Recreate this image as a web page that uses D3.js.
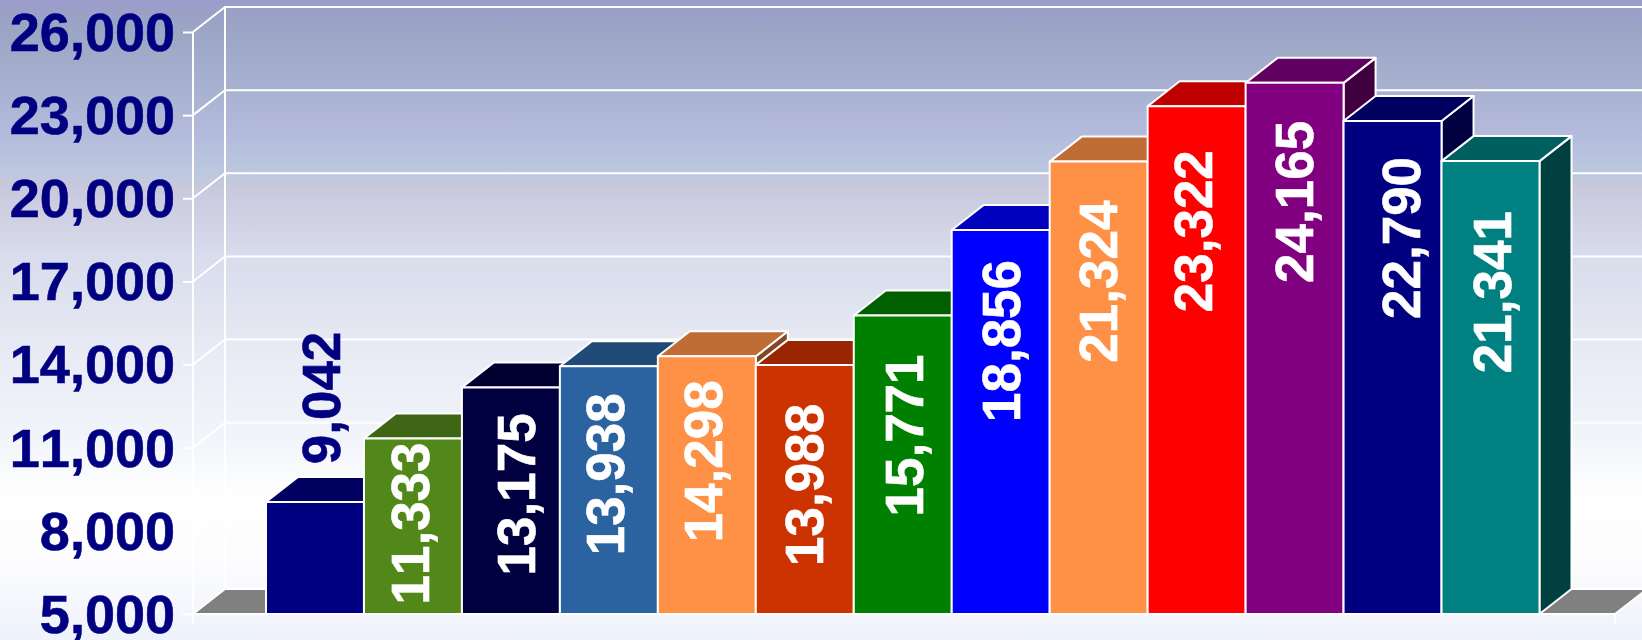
<!DOCTYPE html>
<html><head><meta charset="utf-8">
<script src="https://cdn.jsdelivr.net/npm/d3@7/dist/d3.min.js"></script>
<style>html,body{margin:0;padding:0;overflow:hidden;background:#fff}svg{display:block}text{font-family:"Liberation Sans",Arial,sans-serif;font-weight:bold;font-kerning:none}</style>
</head><body><svg id="c" width="1642" height="640"></svg>
<script>
const categories = ["A","B","C","D","E","F","G","H","I","J","K","L","M"];
const values = [9042,11333,13175,13938,14298,13988,15771,18856,21324,23322,24165,22790,21341];
const colors = ["#000080","#52881a","#000040","#2a639f","#ff9146","#cc3300","#008000","#0000ff","#ff9146","#ff0000","#800080","#000080","#008080"];
const tickValues = [5000,8000,11000,14000,17000,20000,23000,26000];
const labelDrop = [-104,85,107,108,105,120,120,111,120,125,119,117,131];
const labelNudge = [6,-3,6,-3,-3,0,2,1,0,-3,0,9,2];

const W=1642,H=640,x0=193,x1=1615,yBase=614,yTop=32,dx=32,dy=25;
const svg=d3.select("#c");
const defs=svg.append("defs");
const bg=defs.append("linearGradient").attr("id","bg").attr("x1",0).attr("y1",0).attr("x2",0).attr("y2",1);
[[0,"#9a9cca"],[.05,"#9ca6c4"],[.2,"#b2b9da"],[.27,"#bcc8e0"],[.29,"#c8c8dc"],[.4,"#d8dcec"],[.55,"#e8ebf4"],[.68,"#f1f4fa"],[.78,"#ffffff"],[.88,"#fcfcfe"],[1,"#eef2fa"]]
 .forEach(s=>bg.append("stop").attr("offset",s[0]).attr("stop-color",s[1]));
svg.append("rect").attr("width",W).attr("height",H).attr("fill","url(#bg)");

const y=d3.scaleLinear().domain([5000,26000]).range([yBase,yTop]);
const xb=d3.scaleBand().domain(categories).range([266,1539.5]).padding(0);
const line=d3.line();
const white=2;

// walls and gridlines
const grid=svg.append("g").attr("fill","none").attr("stroke","#fff").attr("stroke-width",white);
tickValues.forEach(t=>{
  grid.append("path").attr("d",line([[x0,y(t)],[x0+dx,y(t)-dy],[W+20,y(t)-dy]]));
});
grid.append("path").attr("d",line([[x0+dx,y(26000)-dy],[x0+dx,yBase-dy]]));

// floor
svg.append("path").attr("d",line([[x0,yBase],[x0+dx,yBase-dy],[x1+dx,yBase-dy],[x1,yBase]])+"Z")
  .attr("fill","#808080").attr("stroke","#fff").attr("stroke-width",white);

// axis
const axis=d3.axisLeft(y).tickValues(tickValues).tickFormat(d3.format(",")).tickSize(10).tickPadding(8);
const ag=svg.append("g").attr("transform",`translate(${x0},0)`).call(axis);
ag.selectAll("path.domain").attr("stroke","#fff").attr("stroke-width",white).attr("d",`M0,${yTop}V${yBase+10}`);
ag.selectAll(".tick line").attr("stroke","#fff").attr("stroke-width",white);
ag.selectAll(".tick text").attr("fill","#000080").attr("stroke","#000080").attr("stroke-width",0.6).attr("dy","0.34em")
  .style("font-size","54px").style("font-family",'"Liberation Sans",Arial,sans-serif').style("font-weight","bold");
svg.append("path").attr("d",line([[183,yBase],[x1,yBase],[x1,yBase+10]])).attr("fill","none").attr("stroke","#fff").attr("stroke-width",white);

// bars
const shade=(c,k)=>{const r=d3.rgb(c);return d3.rgb(r.r*k,r.g*k,r.b*k).formatHex();};
const bars=svg.append("g").attr("stroke","#fff").attr("stroke-width",white).attr("stroke-linejoin","round");
categories.forEach((c,i)=>{
  const l=xb(c),r=l+xb.bandwidth(),t=y(values[i]);
  const g=bars.append("g");
  g.append("path").attr("d",line([[r,t],[r+dx,t-dy],[r+dx,yBase-dy],[r,yBase]])+"Z").attr("fill",shade(colors[i],.5));
  g.append("path").attr("d",line([[l,t],[l+dx,t-dy],[r+dx,t-dy],[r,t]])+"Z").attr("fill",shade(colors[i],.75));
  g.append("rect").attr("x",l).attr("y",t).attr("width",xb.bandwidth()).attr("height",yBase-t).attr("fill",colors[i]);
});

// labels
svg.append("g").selectAll("text").data(values).join("text")
  .attr("transform",(d,i)=>`translate(${xb(categories[i])+xb.bandwidth()/2+labelNudge[i]},${y(d)+labelDrop[i]}) rotate(-90)`)
  .attr("text-anchor","middle").attr("dy","0.35em")
  .attr("fill",(d,i)=>i===0?"#000080":"#fff")
  .attr("stroke",(d,i)=>i===0?"#000080":"#fff").attr("stroke-width",0.6)
  .style("font-size","53px")
  .text(d=>d3.format(",")(d));
</script></body></html>
